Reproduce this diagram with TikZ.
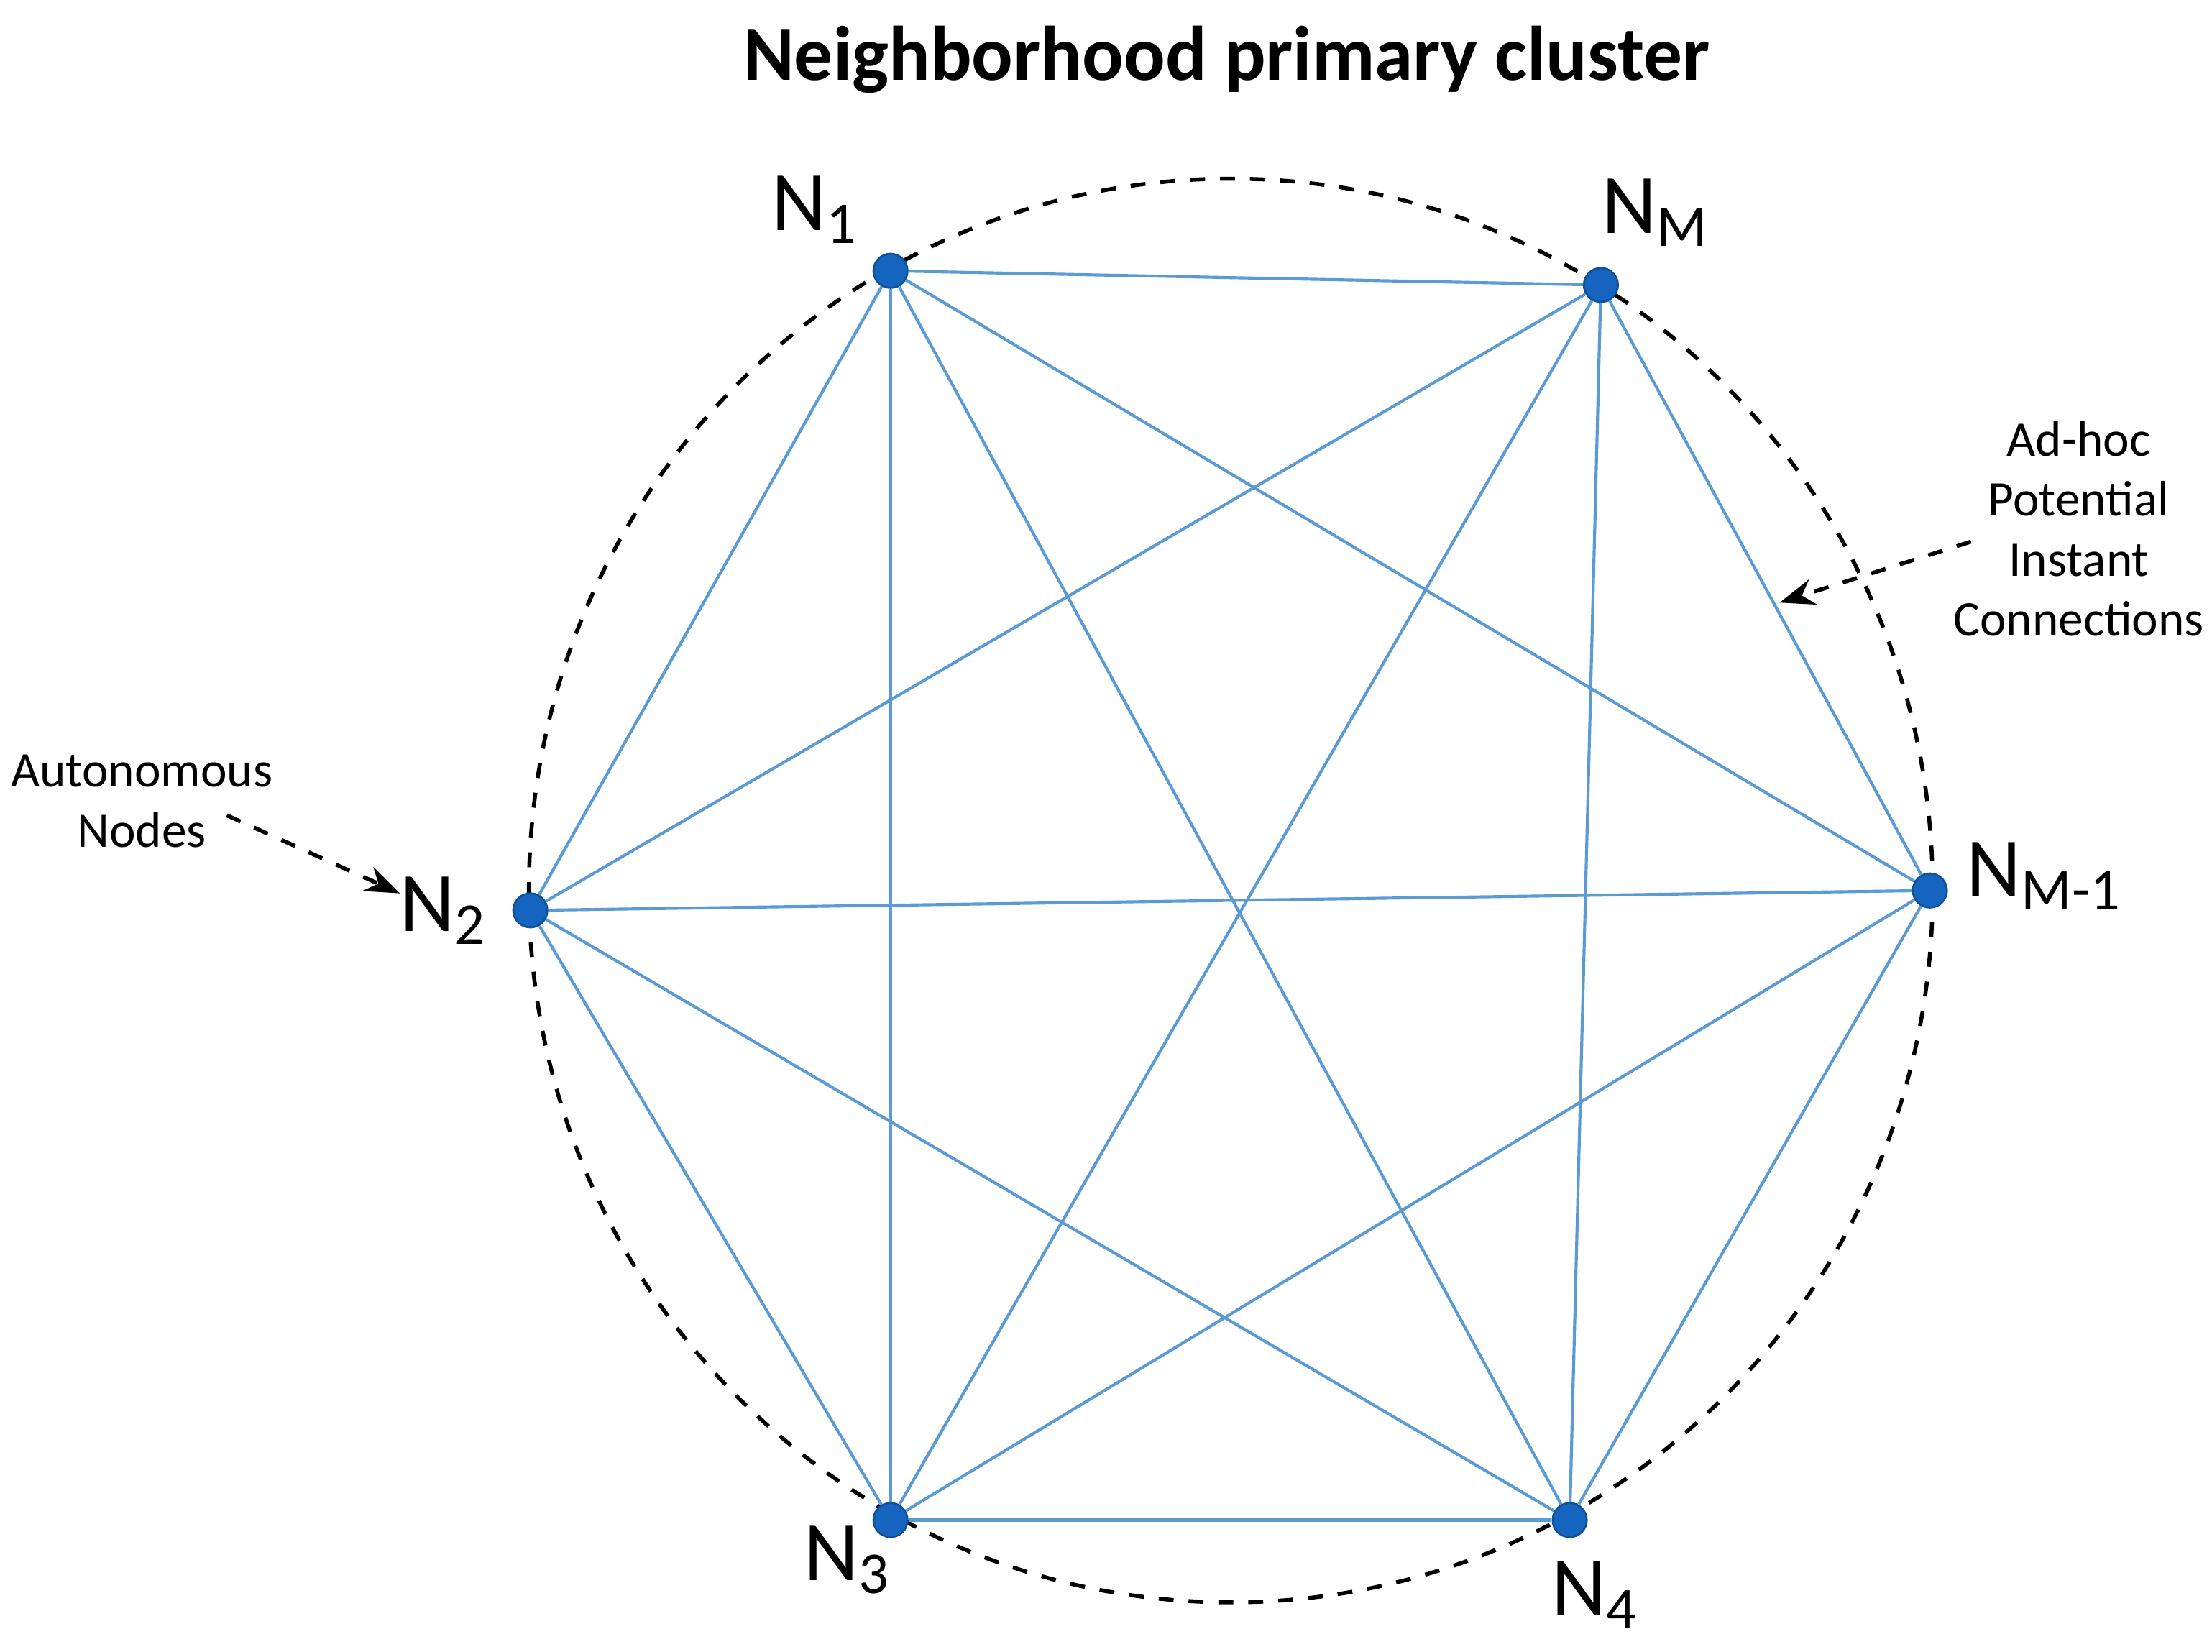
\documentclass[tikz,border=0pt]{standalone}
\usepackage{fontspec}
\setmainfont{Carlito}
\usetikzlibrary{arrows.meta}
\definecolor{dotblue}{RGB}{21,101,192}
\definecolor{edgeblue}{RGB}{91,155,213}
\tikzset{
  peer/.style={circle,fill=dotblue,draw=dotblue!80!black,inner sep=0pt,minimum size=0.24cm},
  link/.style={edgeblue,line width=0.6pt},
  lbl/.style={font=\fontsize{17}{20}\selectfont},
  note/.style={font=\fontsize{10}{12}\selectfont,align=center},
  pointer/.style={dashed,line width=0.8pt,-{Stealth[length=7pt]}}
}
\begin{document}
\begin{tikzpicture}
		\useasboundingbox (0,0) rectangle (15.6,11.65);
		%\draw[help lines] (0,0) grid (15,11);
		\draw[dashed,line width=0.8pt] (8.68,5.37) ellipse [x radius=4.95,y radius=5.02];
		\node[peer] (n1) at (6.28,9.74) {};
		\node[peer] (nm) at (11.29,9.64) {};
		\node[peer] (nm1) at (13.61,5.37) {};
		\node[peer] (n4) at (11.07,0.93) {};
		\node[peer] (n3) at (6.28,0.93) {};
		\node[peer] (n2) at (3.74,5.23) {};
		\foreach \a/\b in {n1/nm,n1/n2,n1/n3,n1/n4,n1/nm1,nm/n2,nm/n3,nm/n4,nm/nm1,n2/nm1,n2/n3,n2/n4,n3/n4,n3/nm1,n4/nm1} {
			\draw[link] (\a) -- (\b);
		}
		\node[lbl] at (5.75,10.17) {N\textsubscript{1}};
		\node[lbl] at (11.68,10.15) {N\textsubscript{M}};
		\node[lbl] at (14.42,5.47) {N\textsubscript{M-1}};
		\node[lbl] at (3.13,5.23) {N\textsubscript{2}};
		\node[lbl] at (5.98,0.65) {N\textsubscript{3}};
		\node[lbl] at (11.25,0.40) {N\textsubscript{4}};
		\node[font=\bfseries\fontsize{15.5}{18}\selectfont] at (8.65,11.23) {Neighborhood primary cluster};
		\node[note] (adhoc) at (14.66,7.92) {Ad-hoc\\Potential\\Instant\\Connections};
		\coordinate (adhocend) at (12.55,7.40);
		\draw[pointer] (13.90,7.83) -- (adhocend);
		\node[note] (auto) at (1.00,6.00) {Autonomous\\Nodes};
		\coordinate (autoend) at (2.82,5.35);
		\draw[pointer] (1.60,5.90) -- (autoend);
\end{tikzpicture}
\end{document}
